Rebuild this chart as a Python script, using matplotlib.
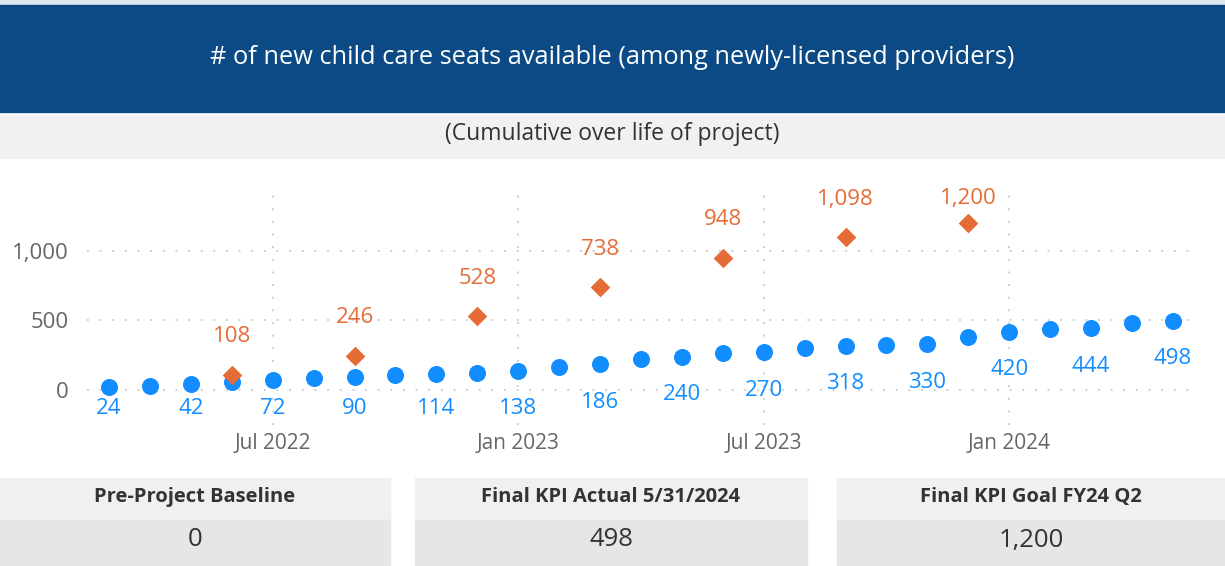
import matplotlib.pyplot as plt
from matplotlib.patches import Rectangle

plt.rcParams['font.family'] = ['Open Sans', 'DejaVu Sans']

# monthly actuals (cumulative seats)
months = ["Mar 2022", "Apr 2022", "May 2022", "Jun 2022", "Jul 2022", "Aug 2022",
          "Sep 2022", "Oct 2022", "Nov 2022", "Dec 2022", "Jan 2023", "Feb 2023",
          "Mar 2023", "Apr 2023", "May 2023", "Jun 2023", "Jul 2023", "Aug 2023",
          "Sep 2023", "Oct 2023", "Nov 2023", "Dec 2023", "Jan 2024", "Feb 2024",
          "Mar 2024", "Apr 2024", "May 2024"]
seats = [24, 30, 42, 60, 72, 84, 90, 110, 114, 124, 138, 166, 186, 222, 240,
         264, 270, 300, 318, 324, 330, 384, 420, 438, 444, 480, 498]

# quarterly goals
goal_months = ["Jun 2022", "Sep 2022", "Dec 2022", "Mar 2023", "Jun 2023",
               "Sep 2023", "Dec 2023"]
goal_seats = [108, 246, 528, 738, 948, 1098, 1200]

tick_months = ["Jul 2022", "Jan 2023", "Jul 2023", "Jan 2024"]
y_ticks = [0, 500, 1000]

card_titles = ["Pre-Project Baseline", "Final KPI Actual 5/31/2024", "Final KPI Goal FY24 Q2"]
card_values = ["0", "498", "1,200"]

title = "# of new child care seats available (among newly-licensed providers)"
subtitle = "(Cumulative over life of project)"

BLUE = "#118dff"
ORANGE = "#e66c37"
W, H = 1225, 566

fig = plt.figure(figsize=(W / 100, H / 100), dpi=100)

def px_rect(x0, y0, x1, y1, color):
    fig.patches.append(Rectangle((x0 / W, 1 - y1 / H), (x1 - x0) / W, (y1 - y0) / H,
                                 transform=fig.transFigure, color=color, zorder=0))

# header banner and subtitle band
px_rect(0, 0, W, 4, "#dfe6ee")
px_rect(0, 5, W, 112, "#0b4a84")
px_rect(0, 115, W, 158, "#f1f1f1")
fig.text(0.5, 1 - 57 / H, title, color="white", fontsize=18.3, ha="center", va="center")
fig.text(0.5, 1 - 134 / H, subtitle, color="#333333", fontsize=16.5, ha="center", va="center")

# chart
ax = fig.add_axes([87 / W, 1 - 425 / H, (1190 - 87) / W, (425 - 193) / H])
x = [months.index(m) for m in months]
gx = [months.index(m) for m in goal_months]
ax.set_xlim(-0.54, 26.42)
ax.set_ylim(-251, 1414)

ax.scatter(x, seats, s=150, color=BLUE, zorder=3, linewidths=0)
ax.scatter(gx, goal_seats, s=100, marker="D", color=ORANGE, zorder=4, linewidths=0)

upp = (1414 + 251) / (425 - 193)  # data units per pixel
for i, v in zip(x, seats):
    if i % 2 == 0:
        ly = max(v - 38 * upp, -18 * upp)
        ax.text(i, ly, f"{v:,}", color=BLUE, fontsize=16, ha="center", va="center", zorder=5)
for i, v in zip(gx, goal_seats):
    ly = min(v + 38 * upp, 192 * upp)
    ax.text(i, ly, f"{v:,}", color=ORANGE, fontsize=16, ha="center", va="center", zorder=5)

ax.set_yticks(y_ticks)
ax.set_yticklabels([f"{t:,}" for t in y_ticks])
ax.set_xticks([months.index(m) for m in tick_months])
ax.set_xticklabels(tick_months)
ax.tick_params(axis="both", length=0, colors="#666666")
ax.tick_params(axis="y", pad=13, labelsize=16)
ax.tick_params(axis="x", pad=6, labelsize=15)
ax.grid(True, color="#c8c8c8", linestyle=(0, (1, 6)), linewidth=1.3)
ax.set_axisbelow(True)
for s in ax.spines.values():
    s.set_visible(False)
ax.patch.set_alpha(0)

# KPI cards
cards = [(0, 390), (415, 807), (837, W)]
for (x0, x1), t, v in zip(cards, card_titles, card_values):
    px_rect(x0, 478, x1, 519, "#f0f0f0")
    px_rect(x0, 520, x1, 565, "#e6e6e6")
    cx = (x0 + x1) / 2 / W
    fig.text(cx, 1 - 497 / H, t, color="#333333", fontsize=14.5, fontweight="bold",
             ha="center", va="center")
    fig.text(cx, 1 - 540 / H, v, color="#333333", fontsize=18.5, ha="center", va="center")

fig.savefig("out.png", dpi=100)
